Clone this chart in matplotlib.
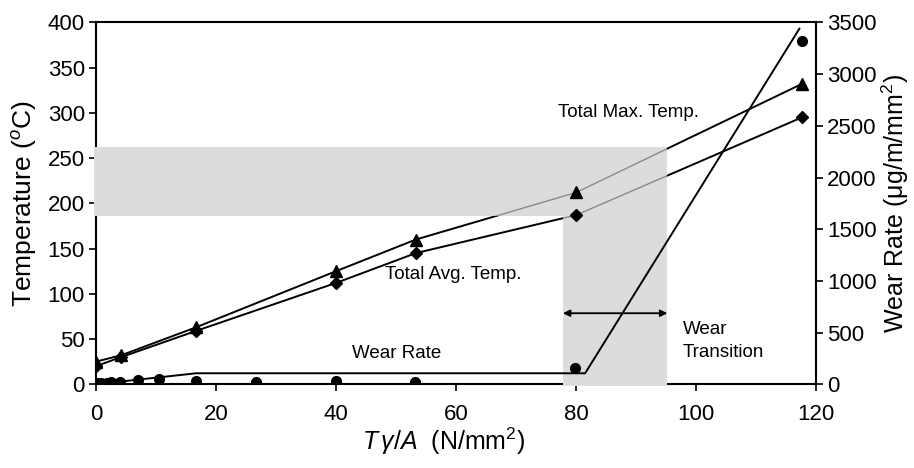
import numpy as np
import matplotlib.pyplot as plt
from matplotlib.patches import Polygon

plt.rcParams['font.family'] = ['Liberation Sans', 'DejaVu Sans']
plt.rcParams['mathtext.fontset'] = 'custom'
plt.rcParams['mathtext.rm'] = 'Liberation Sans'
plt.rcParams['mathtext.it'] = 'Liberation Sans:italic'

# Temperature data (left axis)
temp_x = [0, 4.2, 16.7, 40, 53.3, 80, 117.6]
max_temp = [25, 32, 63, 125, 160, 212, 332]
avg_temp = [20, 30, 59, 112, 145, 187, 295]

# Wear rate data (right axis)
wear_x = [0.1, 0.9, 1.8, 2.5, 4.0, 7.0, 10.5, 16.6, 26.7, 40, 53.2, 79.8, 117.6]
wear_rate = [10, 10, 15, 19, 25, 42, 48, 32, 22, 35, 25, 161, 3322]

# Piecewise fit of the wear rate
wear_fit_x = [0, 16.7, 81.5, 117.2]
wear_fit_y = [0, 106, 106, 3440]

# Shaded region bounds
band_temp = (186, 262)
band_x = (77.8, 95.2)


def plot_wear_transition():
    fig = plt.figure(figsize=(9.14, 4.68), dpi=100)
    ax = fig.add_axes([0.105, 0.179, 0.788, 0.773])
    ax2 = ax.twinx()

    # Temperature lines (black outside the band)
    ax.plot(temp_x, max_temp, color='black', lw=1.4, zorder=2)
    ax.plot(temp_x, avg_temp, color='black', lw=1.4, zorder=2)

    # Grey shaded band covering spines
    verts = [(-0.4, band_temp[0]), (band_x[0], band_temp[0]), (band_x[0], -1.5),
             (band_x[1], -1.5), (band_x[1], band_temp[1]), (-0.4, band_temp[1])]
    band = Polygon(verts, closed=True, facecolor='#dcdcdc', edgecolor='none',
                   zorder=2.6, clip_on=False)
    ax.add_patch(band)

    # Faint copies of the lines inside the band
    for ys in (max_temp, avg_temp):
        ln, = ax.plot(temp_x, ys, color='#8a8a8a', lw=1.0, zorder=2.7)
        ln.set_clip_path(band)

    ax.plot(temp_x, max_temp, ls='none', marker='^', ms=8, color='black', zorder=4)
    ax.plot(temp_x, avg_temp, ls='none', marker='D', ms=6, color='black', zorder=4)

    # Wear rate on right axis
    ax2.plot(wear_fit_x, wear_fit_y, color='black', lw=1.4)
    ax2.plot(wear_x, wear_rate, ls='none', marker='o', ms=7, color='black')

    ax.set_xlim(0, 120)
    ax.set_ylim(0, 400)
    ax2.set_ylim(0, 3500)
    ax.set_xticks(np.arange(0, 121, 20))
    ax.set_yticks(np.arange(0, 401, 50))
    ax2.set_yticks(np.arange(0, 3501, 500))

    for a in (ax, ax2):
        a.tick_params(direction='out', length=5, width=1.2, labelsize=16, pad=3)
        for s in a.spines.values():
            s.set_linewidth(1.5)
    ax.spines['right'].set_visible(False)
    for s in ('left', 'bottom', 'top'):
        ax2.spines[s].set_visible(False)
    ax.tick_params(axis='x', pad=9)

    ax.set_ylabel('Temperature ($^o$C)', fontsize=19, labelpad=6)
    ax2.set_ylabel('Wear Rate (\u03bcg/m/mm$^2$)', fontsize=18, labelpad=2)
    ax.set_xlabel(r'$T\,\gamma/A$  (N/mm$^2$)', fontsize=18)
    ax.xaxis.set_label_coords(0.483, -0.115)

    # Annotations
    fs = 13.5
    ax.text(88.7, 300, 'Total Max. Temp.', fontsize=fs, ha='center', va='center')
    ax.text(48.2, 121, 'Total Avg. Temp.', fontsize=fs, ha='left', va='center')
    ax.text(42.6, 34, 'Wear Rate', fontsize=fs, ha='left', va='center')
    ax.text(97.8, 61, 'Wear', fontsize=fs, ha='left', va='center')
    ax.text(97.8, 35, 'Transition', fontsize=fs, ha='left', va='center')
    ax.annotate('', xy=(band_x[0], 78.5), xytext=(band_x[1], 78.5),
                arrowprops=dict(arrowstyle='<|-|>', color='black', lw=1.3,
                                mutation_scale=10, shrinkA=0, shrinkB=0),
                zorder=5)

    fig.savefig('out.png', dpi=100)


if __name__ == "__main__":
    plot_wear_transition()
